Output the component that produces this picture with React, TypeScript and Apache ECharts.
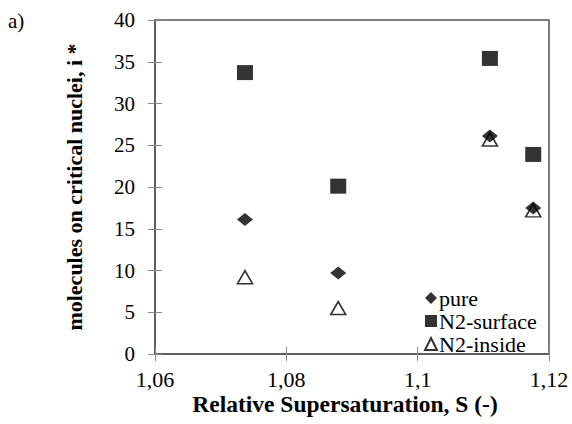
import React, { useEffect, useRef } from "react";
import * as echarts from "echarts";

const supersaturation = [1.0737, 1.0879, 1.111, 1.1176];
const pureValues = [16.1, 9.7, 26.1, 17.5];
const surfaceValues = [33.7, 20.1, 35.4, 23.9];
const insideValues = [9.2, 5.5, 25.7, 17.2];
const seriesNames = ["pure", "N2-surface", "N2-inside"];
const xTitle = "Relative Supersaturation, S (-)";
const yTitle = "molecules on critical nuclei, i *";

const FONT = "Liberation Serif, Times New Roman, serif";

function pairs(vals: number[]) {
  return supersaturation.map((s, i) => [s, vals[i]]);
}

export default function App() {
  const ref = useRef<HTMLDivElement>(null);
  useEffect(() => {
    if (!ref.current) return;
    const chart = echarts.init(ref.current, null, { renderer: "svg" });
    const fmtX = (v: number) => String(Math.round(v * 100) / 100).replace(".", ",");
    chart.setOption({
      animation: false,
      backgroundColor: "#fff",
      textStyle: { fontFamily: FONT, color: "#000" },
      graphic: [
        {
          type: "text",
          left: 8,
          top: 10,
          style: { text: "a)", font: `21px ${FONT}`, fill: "#000" },
        },
        {
          type: "text",
          x: 345,
          y: 404,
          style: {
            text: xTitle,
            font: `bold 23.5px ${FONT}`,
            fill: "#000",
            align: "center",
            verticalAlign: "middle",
          },
        },
      ],
      grid: {
        left: 155,
        top: 20,
        width: 394,
        height: 334,
        show: true,
        borderColor: "#555",
        borderWidth: 1.5,
        backgroundColor: "transparent",
      },
      legend: {
        orient: "vertical",
        left: 424,
        top: 287,
        itemGap: 1,
        itemWidth: 12,
        itemHeight: 12,
        padding: 0,
        data: seriesNames,
        textStyle: { fontFamily: FONT, fontSize: 22, lineHeight: 20, color: "#000", padding: [0, 0, 0, -3] },
      },
      xAxis: [
        {
          type: "value",
          min: 1.06,
          max: 1.12,
          interval: 0.02,
          axisLine: { show: true, lineStyle: { color: "#555", width: 1.5 } },
          axisTick: { show: true, length: 7, lineStyle: { color: "#888" } },
          axisLabel: { formatter: fmtX, fontFamily: FONT, fontSize: 22, color: "#000", margin: 14 },
          splitLine: { show: false },
        },
        {
          type: "value",
          min: 1.06,
          max: 1.12,
          interval: 0.02,
          position: "bottom",
          axisLine: { show: false },
          axisTick: { show: true, inside: true, length: 7, lineStyle: { color: "#888" } },
          axisLabel: { show: false },
          splitLine: { show: false },
        },
      ],
      yAxis: [
        {
          type: "value",
          min: 0,
          max: 40,
          interval: 5,
          name: yTitle,
          nameLocation: "middle",
          nameGap: 70,
          nameTextStyle: { fontFamily: FONT, fontSize: 22, fontWeight: "bold", color: "#000" },
          axisLine: { show: true, lineStyle: { color: "#555", width: 1.5 } },
          axisTick: { show: true, length: 7, lineStyle: { color: "#888" } },
          axisLabel: { fontFamily: FONT, fontSize: 21, color: "#000", margin: 20 },
          splitLine: { show: false },
        },
        {
          type: "value",
          min: 0,
          max: 40,
          interval: 5,
          position: "left",
          axisLine: { show: false },
          axisTick: { show: true, inside: true, length: 7, lineStyle: { color: "#888" } },
          axisLabel: { show: false },
          splitLine: { show: false },
        },
      ],
      series: [
        {
          name: seriesNames[0],
          type: "scatter",
          symbol: "diamond",
          symbolSize: [16, 13],
          itemStyle: { color: "#000" },
          data: pairs(pureValues),
          z: 3,
        },
        {
          name: seriesNames[1],
          type: "scatter",
          symbol: "rect",
          symbolSize: [16, 15],
          itemStyle: { color: "#000" },
          data: pairs(surfaceValues),
        },
        {
          name: seriesNames[2],
          type: "scatter",
          symbol: "triangle",
          symbolSize: [15, 13],
          itemStyle: { color: "#fff", borderColor: "#000", borderWidth: 1.6 },
          data: pairs(insideValues),
          z: 2,
        },
      ],
    });
    return () => chart.dispose();
  }, []);
  return <div ref={ref} style={{ width: 572, height: 424, position: "absolute", left: 0, top: 0 }} />;
}
